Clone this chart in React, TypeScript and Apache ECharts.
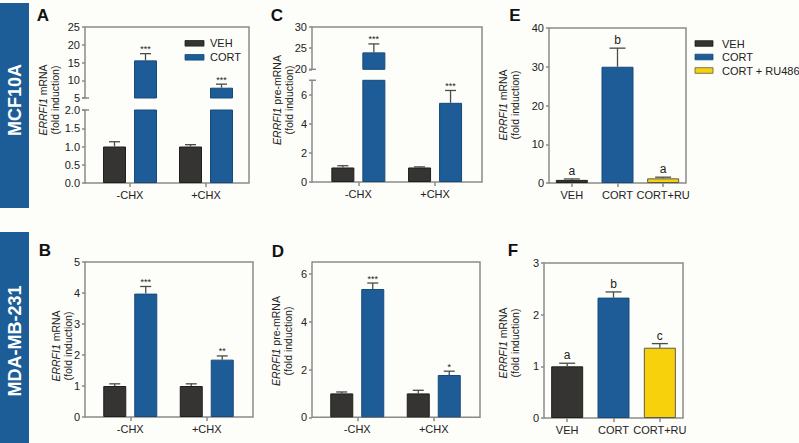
import React, { useEffect, useRef } from 'react';
import * as echarts from 'echarts';

// ---------------- data ----------------
const chxCategories = ['-CHX', '+CHX'];
const ruCategories = ['VEH', 'CORT', 'CORT+RU'];
const chxLegend = ['VEH', 'CORT'];
const ruLegend = ['VEH', 'CORT', 'CORT + RU486'];

// Panel A (MCF10A, ERRFI1 mRNA)
const aVeh = [1.0, 1.0];
const aVehErr = [0.13, 0.05];
const aCort = [15.6, 7.9];
const aCortErr = [1.9, 1.0];
const aSig = ['***', '***'];
const aUpperRange = [5, 25];
const aUpperTicks = [5, 10, 15, 20, 25];
const aLowerRange = [0, 2];
const aLowerTicks = [0, 0.5, 1, 1.5, 2];

// Panel C (MCF10A, ERRFI1 pre-mRNA)
const cVeh = [1.0, 1.0];
const cVehErr = [0.12, 0.04];
const cCort = [24.0, 5.45];
const cCortErr = [2.0, 0.85];
const cSig = ['***', '***'];
const cUpperRange = [20, 30];
const cUpperTicks = [20, 25, 30];
const cLowerRange = [0, 7];
const cLowerTicks = [0, 2, 4, 6];

// Panel E (MCF10A, RU486)
const eVals = [0.8, 30.0, 1.2];
const eErr = [0.25, 4.8, 0.3];
const eLetters = ['a', 'b', 'a'];
const eRange = [0, 40];
const eTicks = [0, 10, 20, 30, 40];

// Panel B (MDA-MB-231, ERRFI1 mRNA)
const bVeh = [1.0, 1.0];
const bVehErr = [0.07, 0.07];
const bCort = [3.98, 1.85];
const bCortErr = [0.23, 0.12];
const bSig = ['***', '**'];
const bRange = [0, 5];
const bTicks = [0, 1, 2, 3, 4, 5];

// Panel D (MDA-MB-231, ERRFI1 pre-mRNA)
const dVeh = [1.0, 1.0];
const dVehErr = [0.06, 0.13];
const dCort = [5.37, 1.77];
const dCortErr = [0.25, 0.16];
const dSig = ['***', '*'];
const dRange = [0, 6.5];
const dTicks = [0, 2, 4, 6];

// Panel F (MDA-MB-231, RU486)
const fVals = [1.0, 2.33, 1.36];
const fErr = [0.06, 0.11, 0.08];
const fLetters = ['a', 'b', 'c'];
const fRange = [0, 3];
const fTicks = [0, 1, 2, 3];

// ---------------- styles ----------------
const FONT = '"Liberation Sans", Arial, sans-serif';
const AXIS_GRAY = '#8a8a8a';
const TEXT = '#222222';
const ERR = '#4a4a4a';
const C_VEH = '#363432';
const C_CORT = '#1d5c97';
const C_RU = '#f6d10c';
const B_VEH = '#1f1f1f';
const B_CORT = '#174a7c';
const B_RU = '#5e5a48';
const BAND = '#1c5c97';

type Seg = {
  top: number;
  height: number;
  range: number[];
  ticks: number[];
  fmt?: (v: number) => string;
  showX: boolean;
};
type BarSpec = {
  name: string;
  values: number[];
  errs: number[];
  colors: string[];
  borders: string[];
  offset: number;
  labels?: string[];
  labelSize?: number;
  labelGap?: number;
};
type Panel = {
  left: number;
  width: number;
  yOffset: number;
  frame: { l: number; r: number; t: number; b: number };
  segs: Seg[];
  categories: string[];
  bars: BarSpec[];
  barWidth: number;
  barGap: string;
  capW: number;
  breakY?: number[];
};

const chxBars = (veh: number[], vehErr: number[], cort: number[], cortErr: number[], sig: string[]): BarSpec[] => [
  { name: 'VEH', values: veh, errs: vehErr, colors: veh.map(() => C_VEH), borders: veh.map(() => B_VEH), offset: -15.5 },
  {
    name: 'CORT', values: cort, errs: cortErr, colors: cort.map(() => C_CORT), borders: cort.map(() => B_CORT),
    offset: 15.5, labels: sig, labelSize: 9, labelGap: 0,
  },
];
const ruBars = (vals: number[], errs: number[], letters: string[]): BarSpec[] => [
  {
    name: 'group', values: vals, errs, colors: [C_VEH, C_CORT, C_RU], borders: [B_VEH, B_CORT, B_RU],
    offset: 0, labels: letters, labelSize: 12, labelGap: 2,
  },
];

const panels: Panel[] = [
  {
    left: 92, width: 152, yOffset: 7, frame: { l: 85, r: 249, t: 27, b: 183 },
    segs: [
      { top: 27, height: 71, range: aUpperRange, ticks: aUpperTicks, showX: false },
      { top: 110, height: 73, range: aLowerRange, ticks: aLowerTicks, fmt: (v) => v.toFixed(1), showX: true },
    ],
    categories: chxCategories, bars: chxBars(aVeh, aVehErr, aCort, aCortErr, aSig),
    barWidth: 23, barGap: `${(8 / 23) * 100}%`, capW: 11, breakY: [98, 110],
  },
  {
    left: 320, width: 153.4, yOffset: 8, frame: { l: 312, r: 482, t: 27, b: 182 },
    segs: [
      { top: 27, height: 42.3, range: cUpperRange, ticks: cUpperTicks, showX: false },
      { top: 80.3, height: 101.7, range: cLowerRange, ticks: cLowerTicks, showX: true },
    ],
    categories: chxCategories, bars: chxBars(cVeh, cVehErr, cCort, cCortErr, cSig),
    barWidth: 23, barGap: `${(8 / 23) * 100}%`, capW: 11, breakY: [69.3, 80.3],
  },
  {
    left: 549, width: 137, yOffset: 0, frame: { l: 549, r: 686, t: 28, b: 183 },
    segs: [{ top: 28, height: 155, range: eRange, ticks: eTicks, showX: true }],
    categories: ruCategories, bars: ruBars(eVals, eErr, eLetters),
    barWidth: 32, barGap: '0%', capW: 16,
  },
  {
    left: 92, width: 153, yOffset: 7, frame: { l: 85, r: 253, t: 262, b: 417 },
    segs: [{ top: 262, height: 155, range: bRange, ticks: bTicks, showX: true }],
    categories: chxCategories, bars: chxBars(bVeh, bVehErr, bCort, bCortErr, bSig),
    barWidth: 23, barGap: `${(8 / 23) * 100}%`, capW: 11,
  },
  {
    left: 319, width: 153, yOffset: 7, frame: { l: 312, r: 480, t: 262, b: 417.3 },
    segs: [{ top: 262, height: 155.3, range: dRange, ticks: dTicks, showX: true }],
    categories: chxCategories, bars: chxBars(dVeh, dVehErr, dCort, dCortErr, dSig),
    barWidth: 23, barGap: `${(8 / 23) * 100}%`, capW: 11,
  },
  {
    left: 544, width: 139, yOffset: 0, frame: { l: 544, r: 683, t: 263, b: 418 },
    segs: [{ top: 263, height: 155, range: fRange, ticks: fTicks, showX: true }],
    categories: ruCategories, bars: ruBars(fVals, fErr, fLetters),
    barWidth: 32, barGap: '0%', capW: 16,
  },
];

const yTitles = [
  { x: 48.5, y: 100, kind: 'mRNA' },
  { x: 283, y: 100, kind: 'pre-mRNA' },
  { x: 509, y: 105, kind: 'mRNA' },
  { x: 62, y: 346, kind: 'mRNA' },
  { x: 282, y: 341, kind: 'pre-mRNA' },
  { x: 509, y: 343, kind: 'mRNA' },
];
const panelLetters = [
  { t: 'A', x: 43, y: 15 },
  { t: 'C', x: 277, y: 15 },
  { t: 'E', x: 515, y: 15 },
  { t: 'B', x: 45, y: 250 },
  { t: 'D', x: 278, y: 251 },
  { t: 'F', x: 513, y: 250 },
];

function makeErrRender(off: number, capW: number, labels?: string[], labelSize?: number, labelGap?: number) {
  return (params: any, api: any) => {
    const ci = api.value(0);
    const m = api.value(1);
    const e = api.value(2);
    const li = api.value(3);
    const p0 = api.coord([ci, m]);
    const p1 = api.coord([ci, m + e]);
    const x = p0[0] + off;
    const children: any[] = [
      { type: 'line', shape: { x1: x, y1: p0[1], x2: x, y2: p1[1] }, style: { stroke: ERR, lineWidth: 1.3 } },
      { type: 'line', shape: { x1: x - capW / 2, y1: p1[1], x2: x + capW / 2, y2: p1[1] }, style: { stroke: ERR, lineWidth: 1.3 } },
    ];
    if (labels && labels[li]) {
      children.push({
        type: 'text',
        x,
        y: p1[1] - (labelGap || 0),
        style: {
          text: labels[li], fill: TEXT, fontSize: labelSize || 10, fontFamily: FONT,
          align: 'center', verticalAlign: 'bottom',
        },
      });
    }
    return { type: 'group', children };
  };
}

function buildOption() {
  const grid: any[] = [];
  const xAxis: any[] = [];
  const yAxis: any[] = [];
  const series: any[] = [];
  const graphic: any[] = [];

  panels.forEach((p) => {
    p.segs.forEach((seg) => {
      const gi = grid.length;
      grid.push({ left: p.left, top: seg.top, width: p.width, height: seg.height, containLabel: false });
      xAxis.push({
        type: 'category', gridIndex: gi, data: p.categories, show: seg.showX,
        axisLine: { show: false },
        axisTick: { show: true, alignWithLabel: true, length: 4, lineStyle: { color: AXIS_GRAY, width: 1.5 } },
        axisLabel: { margin: 6, color: TEXT, fontSize: 11, fontFamily: FONT, interval: 0, hideOverlap: false },
        splitLine: { show: false },
      });
      yAxis.push({
        type: 'value', gridIndex: gi, min: seg.range[0], max: seg.range[1], offset: p.yOffset,
        axisLine: { show: true, lineStyle: { color: AXIS_GRAY, width: 1.5 } },
        axisTick: { show: true, length: 3, customValues: seg.ticks, lineStyle: { color: AXIS_GRAY, width: 1.5 } },
        axisLabel: {
          margin: 5, color: TEXT, fontSize: 11, fontFamily: FONT, customValues: seg.ticks,
          formatter: seg.fmt ? (v: number) => seg.fmt!(v) : (v: number) => String(v),
        },
        splitLine: { show: false },
      });
      p.bars.forEach((b) => {
        series.push({
          type: 'bar', name: b.name, xAxisIndex: gi, yAxisIndex: gi, barWidth: p.barWidth, barGap: p.barGap,
          clip: true, z: 2,
          data: b.values.map((v, i) =>
            v > seg.range[0]
              ? { value: v, itemStyle: { color: b.colors[i], borderColor: b.borders[i], borderWidth: 1 } }
              : '-'
          ),
        });
      });
      p.bars.forEach((b) => {
        const pts = b.values
          .map((v, i) => [i, v, b.errs[i], i])
          .filter((d) => d[1] >= seg.range[0] && d[1] <= seg.range[1]);
        series.push({
          type: 'custom', xAxisIndex: gi, yAxisIndex: gi, z: 3, data: pts, encode: { x: 0, y: 1 },
          renderItem: makeErrRender(b.offset, p.capW, b.labels, b.labelSize, b.labelGap),
        });
      });
    });

    // frame (top, right, bottom)
    const f = p.frame;
    graphic.push({
      type: 'polyline', z: 1,
      shape: { points: [[f.l, f.t], [f.r, f.t], [f.r, f.b], [f.l, f.b]] },
      style: { stroke: AXIS_GRAY, lineWidth: 1.5, fill: null },
    });
    if (p.breakY) {
      p.breakY.forEach((by) => {
        graphic.push({
          type: 'line', z: 1,
          shape: { x1: f.l - 3, y1: by, x2: f.l + 4, y2: by },
          style: { stroke: AXIS_GRAY, lineWidth: 1.5 },
        });
      });
    }
  });

  // y titles
  yTitles.forEach((t) => {
    graphic.push({
      type: 'text', x: t.x, y: t.y, rotation: Math.PI / 2, z: 5,
      style: {
        text: `{i|ERRFI1} ${t.kind}\n(fold induction)`,
        rich: { i: { fontStyle: 'italic', fontSize: 10.5, fontFamily: FONT, fill: TEXT, lineHeight: 12 } },
        fontSize: 10.5, fontFamily: FONT, fill: TEXT, lineHeight: 12,
        align: 'center', verticalAlign: 'middle',
      },
    });
  });

  // panel letters
  panelLetters.forEach((l) => {
    graphic.push({
      type: 'text', x: l.x, y: l.y, z: 5,
      style: { text: l.t, fill: '#111', fontSize: 17, fontWeight: 'bold', fontFamily: FONT, align: 'center', verticalAlign: 'middle' },
    });
  });

  // side bands
  graphic.push({ type: 'rect', z: 1, shape: { x: 0, y: 3, width: 29, height: 205 }, style: { fill: BAND } });
  graphic.push({ type: 'rect', z: 1, shape: { x: 0, y: 232, width: 29, height: 211 }, style: { fill: BAND } });
  graphic.push({
    type: 'text', x: 14.5, y: 100, rotation: Math.PI / 2, z: 5,
    style: { text: 'MCF10A', fill: '#ffffff', fontSize: 18, fontWeight: 'bold', fontFamily: FONT, align: 'center', verticalAlign: 'middle' },
  });
  graphic.push({
    type: 'text', x: 14.5, y: 341, rotation: Math.PI / 2, z: 5,
    style: { text: 'MDA-MB-231', fill: '#ffffff', fontSize: 18, fontWeight: 'bold', fontFamily: FONT, align: 'center', verticalAlign: 'middle' },
  });

  // legends
  const legendColors = [C_VEH, C_CORT, C_RU];
  const legendBorders = [B_VEH, B_CORT, B_RU];
  chxLegend.forEach((name, i) => {
    const cy = 43.3 + i * 14;
    graphic.push({ type: 'rect', z: 5, shape: { x: 185, y: cy - 2.8, width: 19, height: 5.6 }, style: { fill: legendColors[i], stroke: legendBorders[i], lineWidth: 0.8 } });
    graphic.push({ type: 'text', z: 5, x: 210, y: cy, style: { text: name, fill: TEXT, fontSize: 11, fontFamily: FONT, align: 'left', verticalAlign: 'middle' } });
  });
  ruLegend.forEach((name, i) => {
    const cy = 43.5 + i * 13.5;
    graphic.push({ type: 'rect', z: 5, shape: { x: 695, y: cy - 2.8, width: 18, height: 5.6 }, style: { fill: legendColors[i], stroke: legendBorders[i], lineWidth: 0.8 } });
    graphic.push({ type: 'text', z: 5, x: 722, y: cy, style: { text: name, fill: TEXT, fontSize: 11, fontFamily: FONT, align: 'left', verticalAlign: 'middle' } });
  });

  return {
    animation: false,
    backgroundColor: '#fdfdf9',
    textStyle: { fontFamily: FONT },
    grid,
    xAxis,
    yAxis,
    series,
    graphic,
  };
}

export default function App() {
  const ref = useRef<HTMLDivElement>(null);
  useEffect(() => {
    if (!ref.current) return;
    const chart = echarts.init(ref.current, undefined, { renderer: 'svg' });
    chart.setOption(buildOption() as any);
    return () => chart.dispose();
  }, []);
  return (
    <div
      ref={ref}
      style={{ position: 'fixed', left: 0, top: 0, width: '799px', height: '443px' }}
    />
  );
}
